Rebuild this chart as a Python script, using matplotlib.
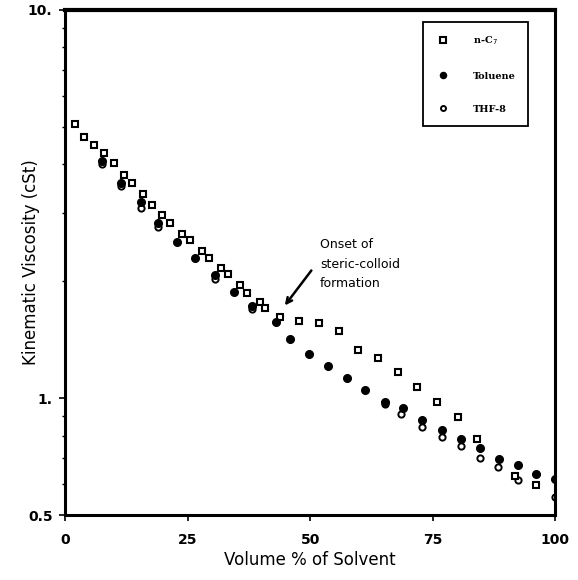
import matplotlib
matplotlib.use("Agg")
import matplotlib.pyplot as plt
from matplotlib.ticker import FixedLocator, NullFormatter, FixedFormatter

# n-C7 (open squares)
nc7_x = [2.0, 3.9, 5.9, 7.9, 9.9, 12.0, 13.7, 15.9, 17.7, 19.8, 21.5, 23.9, 25.5,
         27.9, 29.4, 31.8, 33.2, 35.7, 37.1, 39.8, 40.8, 43.9, 47.8, 51.9, 55.9,
         59.7, 63.8, 67.9, 71.8, 75.9, 80.1, 84.1, 91.8, 96.1]
nc7_y = [5.08, 4.71, 4.49, 4.27, 4.04, 3.75, 3.58, 3.35, 3.15, 2.96, 2.83, 2.65, 2.56,
         2.40, 2.29, 2.17, 2.09, 1.955, 1.87, 1.77, 1.71, 1.62, 1.58, 1.56, 1.49,
         1.33, 1.27, 1.17, 1.066, 0.975, 0.893, 0.784, 0.631, 0.596]

# Toluene (filled circles)
tol_x = [7.5, 11.5, 15.4, 19.0, 22.9, 26.6, 30.5, 34.4, 38.1, 43.0, 45.9, 49.7,
         53.6, 57.6, 61.2, 65.2, 69.0, 72.9, 76.9, 80.8, 84.6, 88.6, 92.4, 96.1, 100.0]
tol_y = [4.09, 3.59, 3.20, 2.82, 2.53, 2.29, 2.07, 1.88, 1.73, 1.57, 1.417, 1.30,
         1.21, 1.124, 1.047, 0.978, 0.941, 0.878, 0.830, 0.784, 0.742, 0.698, 0.671, 0.636, 0.618]

# THF-8 (open circles)
thf_x = [7.5, 11.5, 15.4, 19.0, 30.5, 38.1, 65.3, 68.6, 72.9, 76.9, 80.8, 84.6, 88.3, 92.4, 100.0]
thf_y = [4.00, 3.52, 3.09, 2.76, 2.03, 1.70, 0.965, 0.913, 0.843, 0.792, 0.753, 0.700, 0.663, 0.617, 0.555]

fig = plt.figure(figsize=(5.78, 5.80), dpi=100)
ax = fig.add_axes([0.1125, 0.112, 0.848, 0.871])

ax.plot(nc7_x, nc7_y, ls="none", marker="s", ms=4.8, mfc="white", mec="black",
        mew=1.5, label="n-C$_7$", zorder=3)
ax.plot(tol_x, tol_y, ls="none", marker="o", ms=5.5, mfc="black", mec="black",
        label="Toluene", zorder=4)
ax.plot(thf_x, thf_y, ls="none", marker="o", ms=4.5, mfc="white", mec="black",
        mew=1.4, label="THF-8", zorder=2)

ax.set_yscale("log")
ax.set_xlim(0, 100)
ax.set_ylim(0.5, 10)

ax.xaxis.set_major_locator(FixedLocator([0, 25, 50, 75, 100]))
ax.set_xticklabels(["0", "25", "50", "75", "100"], fontweight="bold", fontsize=10)
ax.yaxis.set_major_locator(FixedLocator([0.5, 1, 10]))
ax.yaxis.set_major_formatter(FixedFormatter(["0.5", "1.", "10."]))
ax.yaxis.set_minor_locator(FixedLocator([0.6, 0.7, 0.8, 0.9, 2, 3, 4, 5, 6, 7, 8, 9]))
ax.yaxis.set_minor_formatter(NullFormatter())
for t in ax.get_yticklabels():
    t.set_fontweight("bold")
    t.set_fontsize(10)
ax.tick_params(axis="x", which="major", direction="out", length=4, width=1.2, pad=9)
ax.tick_params(axis="y", which="major", direction="out", length=4, width=1.2, pad=5)
ax.tick_params(axis="y", which="minor", direction="out", length=2.5, width=1)

for s in ax.spines.values():
    s.set_linewidth(2.2)
ax.spines["top"].set_linewidth(3)

ax.set_xlabel("Volume % of Solvent", fontsize=12, labelpad=3)
ax.set_ylabel("Kinematic Viscosity (cSt)", fontsize=12)
ax.yaxis.set_label_coords(-0.052, 0.5)

# onset annotation
ax.annotate("", xy=(44.5, 1.71), xytext=(50.6, 2.16),
            arrowprops=dict(arrowstyle="->", lw=1.8, color="black"))
ax.text(52.0, 2.58, "Onset of\nsteric-colloid\nformation", fontsize=9,
        va="top", ha="left", linespacing=1.65)

leg = ax.legend(loc="upper right", bbox_to_anchor=(0.955, 0.986), fancybox=False,
                edgecolor="black", framealpha=1, labelspacing=2.5, borderpad=1.3,
                handletextpad=2.4, handlelength=1.4, markerscale=0.8,
                prop={"family": "DejaVu Serif", "weight": "bold", "size": 7})
leg.get_frame().set_linewidth(1.3)

fig.savefig("out.png", dpi=100)
